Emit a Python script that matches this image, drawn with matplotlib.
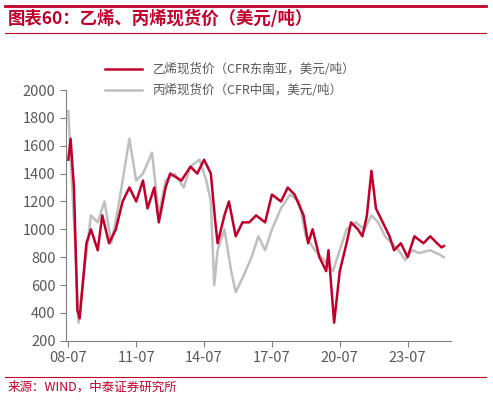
import matplotlib
matplotlib.use('Agg')
import matplotlib.pyplot as plt
import pandas as pd

plt.rcParams['font.family'] = ['Noto Sans CJK SC', 'DejaVu Sans']

# 乙烯 (CFR东南亚)
eth_t = [2008.5, 2008.6, 2008.75, 2008.9, 2009.0, 2009.3, 2009.5, 2009.8, 2010.0, 2010.3, 2010.6, 2010.9,
         2011.2, 2011.5, 2011.8, 2012.0, 2012.3, 2012.5, 2012.8, 2013.0, 2013.5, 2013.9, 2014.2, 2014.5,
         2014.8, 2015.0, 2015.1, 2015.4, 2015.6, 2015.9, 2016.2, 2016.5, 2016.8, 2017.2, 2017.5, 2017.9,
         2018.2, 2018.5, 2018.9, 2019.1, 2019.3, 2019.6, 2019.9, 2020.0, 2020.25, 2020.5, 2020.8, 2021.0,
         2021.3, 2021.5, 2021.7, 2021.9, 2022.1, 2022.4, 2022.7, 2022.9, 2023.2, 2023.5, 2023.8, 2024.2,
         2024.5, 2024.8, 2025.0, 2025.1]
eth_v = [1500, 1650, 1300, 420, 360, 900, 1000, 850, 1100, 900, 1000, 1200,
         1300, 1200, 1350, 1150, 1300, 1050, 1300, 1400, 1350, 1450, 1400, 1500,
         1400, 1050, 900, 1100, 1200, 950, 1050, 1050, 1100, 1050, 1250, 1200,
         1300, 1250, 1100, 900, 1000, 800, 700, 850, 330, 700, 900, 1050,
         1000, 950, 1100, 1420, 1150, 1050, 950, 850, 900, 800, 950, 900,
         950, 900, 870, 880]

# 丙烯 (CFR中国)
pro_t = [2008.5, 2008.8, 2008.95, 2009.2, 2009.5, 2009.8, 2010.1, 2010.4, 2010.7, 2011.0, 2011.2, 2011.5,
         2011.8, 2012.2, 2012.5, 2012.8, 2013.2, 2013.6, 2013.9, 2014.3, 2014.6, 2014.8, 2014.95, 2015.1,
         2015.4, 2015.7, 2015.9, 2016.2, 2016.6, 2016.9, 2017.2, 2017.5, 2017.9, 2018.3, 2018.7, 2019.0,
         2019.4, 2019.8, 2020.2, 2020.5, 2020.8, 2021.2, 2021.6, 2021.9, 2022.2, 2022.5, 2022.8, 2023.1,
         2023.4, 2023.7, 2024.0, 2024.5, 2024.9, 2025.1]
pro_v = [1850, 900, 330, 700, 1100, 1050, 1200, 900, 1150, 1450, 1650, 1350,
         1400, 1550, 1100, 1350, 1400, 1300, 1450, 1500, 1350, 1200, 600, 850,
         1000, 700, 550, 650, 800, 950, 850, 1000, 1150, 1250, 1200, 950,
         850, 780, 700, 850, 1000, 1050, 1000, 1100, 1050, 950, 900, 850,
         780, 850, 830, 850, 820, 800]

xticks = [2008.5, 2011.5, 2014.5, 2017.5, 2020.5, 2023.5]
xlabels = ['08-07', '11-07', '14-07', '17-07', '20-07', '23-07']

red = '#C0002A'
fig = plt.figure(figsize=(4.93, 4.00), dpi=100)
ax = fig.add_axes([0.134, 0.148, 0.78, 0.627])
ax.plot(pro_t, pro_v, color='#BFBFBF', lw=1.8, label='丙烯现货价（CFR中国，美元/吨）')
ax.plot(eth_t, eth_v, color=red, lw=1.8, label='乙烯现货价（CFR东南亚，美元/吨）')
ax.set_xlim(2008.4, 2025.4)
ax.set_ylim(200, 2000)
ax.set_yticks(range(200, 2001, 200))
ax.set_xticks(xticks, xlabels)
for s in ['top', 'right']:
    ax.spines[s].set_visible(False)
for s in ['left', 'bottom']:
    ax.spines[s].set_color('#808080')
ax.tick_params(colors='#595959', labelsize=10.5, length=4, color='#808080')
h, l = ax.get_legend_handles_labels()
fig.legend(h[::-1], l[::-1], loc='upper left', bbox_to_anchor=(0.19, 0.87), frameon=False,
           fontsize=9, labelcolor='#595959', handlelength=3, labelspacing=0.6)

fig.add_artist(plt.Line2D([0.01, 0.985], [0.985, 0.985], color=red, lw=2))
fig.add_artist(plt.Line2D([0.01, 0.985], [0.918, 0.918], color=red, lw=0.8))
fig.add_artist(plt.Line2D([0.01, 0.985], [0.058, 0.058], color=red, lw=0.8))
fig.text(0.015, 0.952, '图表60：乙烯、丙烯现货价（美元/吨）', color=red, fontsize=12.5,
         fontweight='bold', style='italic', va='center')
fig.text(0.015, 0.032, '来源：WIND，中泰证券研究所', color=red, fontsize=9, va='center')
fig.savefig('out.png', dpi=100)
